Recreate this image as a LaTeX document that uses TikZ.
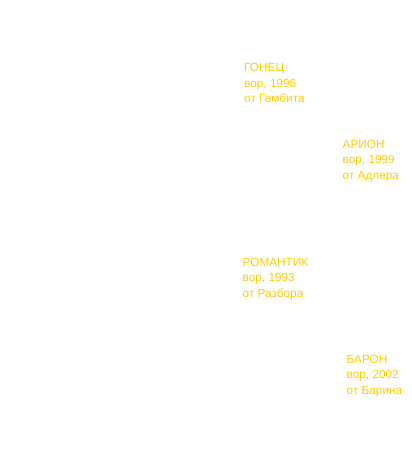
\documentclass[tikz,border=0pt]{standalone}
\usepackage{fontspec}
\setmainfont{Liberation Sans}
\usepackage{xcolor}
\usetikzlibrary{positioning}
\definecolor{gold}{RGB}{255,204,0}

\begin{document}
\begin{tikzpicture}[
      x=1pt, y=-1pt,
      horse/.style={anchor=north west, inner sep=0pt, align=left, text=gold,
                    font=\fontsize{11.8}{15.4}\selectfont},
    ]
    % Canvas
    \useasboundingbox (0,0) rectangle (412,459);

    % Father line
    \node[horse] (gonets) at (244,63.3) {ГОНЕЦ\\вор, 1996\\от Гамбита};
    \node[horse] (arion) at (342.5,139.8) {АРИОН\\вор, 1999\\от Адлера};

    % Mother line
    \node[horse] (romantik) at (242.5,258) {РОМАНТИК\\вор, 1993\\от Разбора};
    \node[horse] (baron) at (346.5,354.8) {БАРОН\\вор, 2002\\от Барина};
  \end{tikzpicture}
\end{document}
